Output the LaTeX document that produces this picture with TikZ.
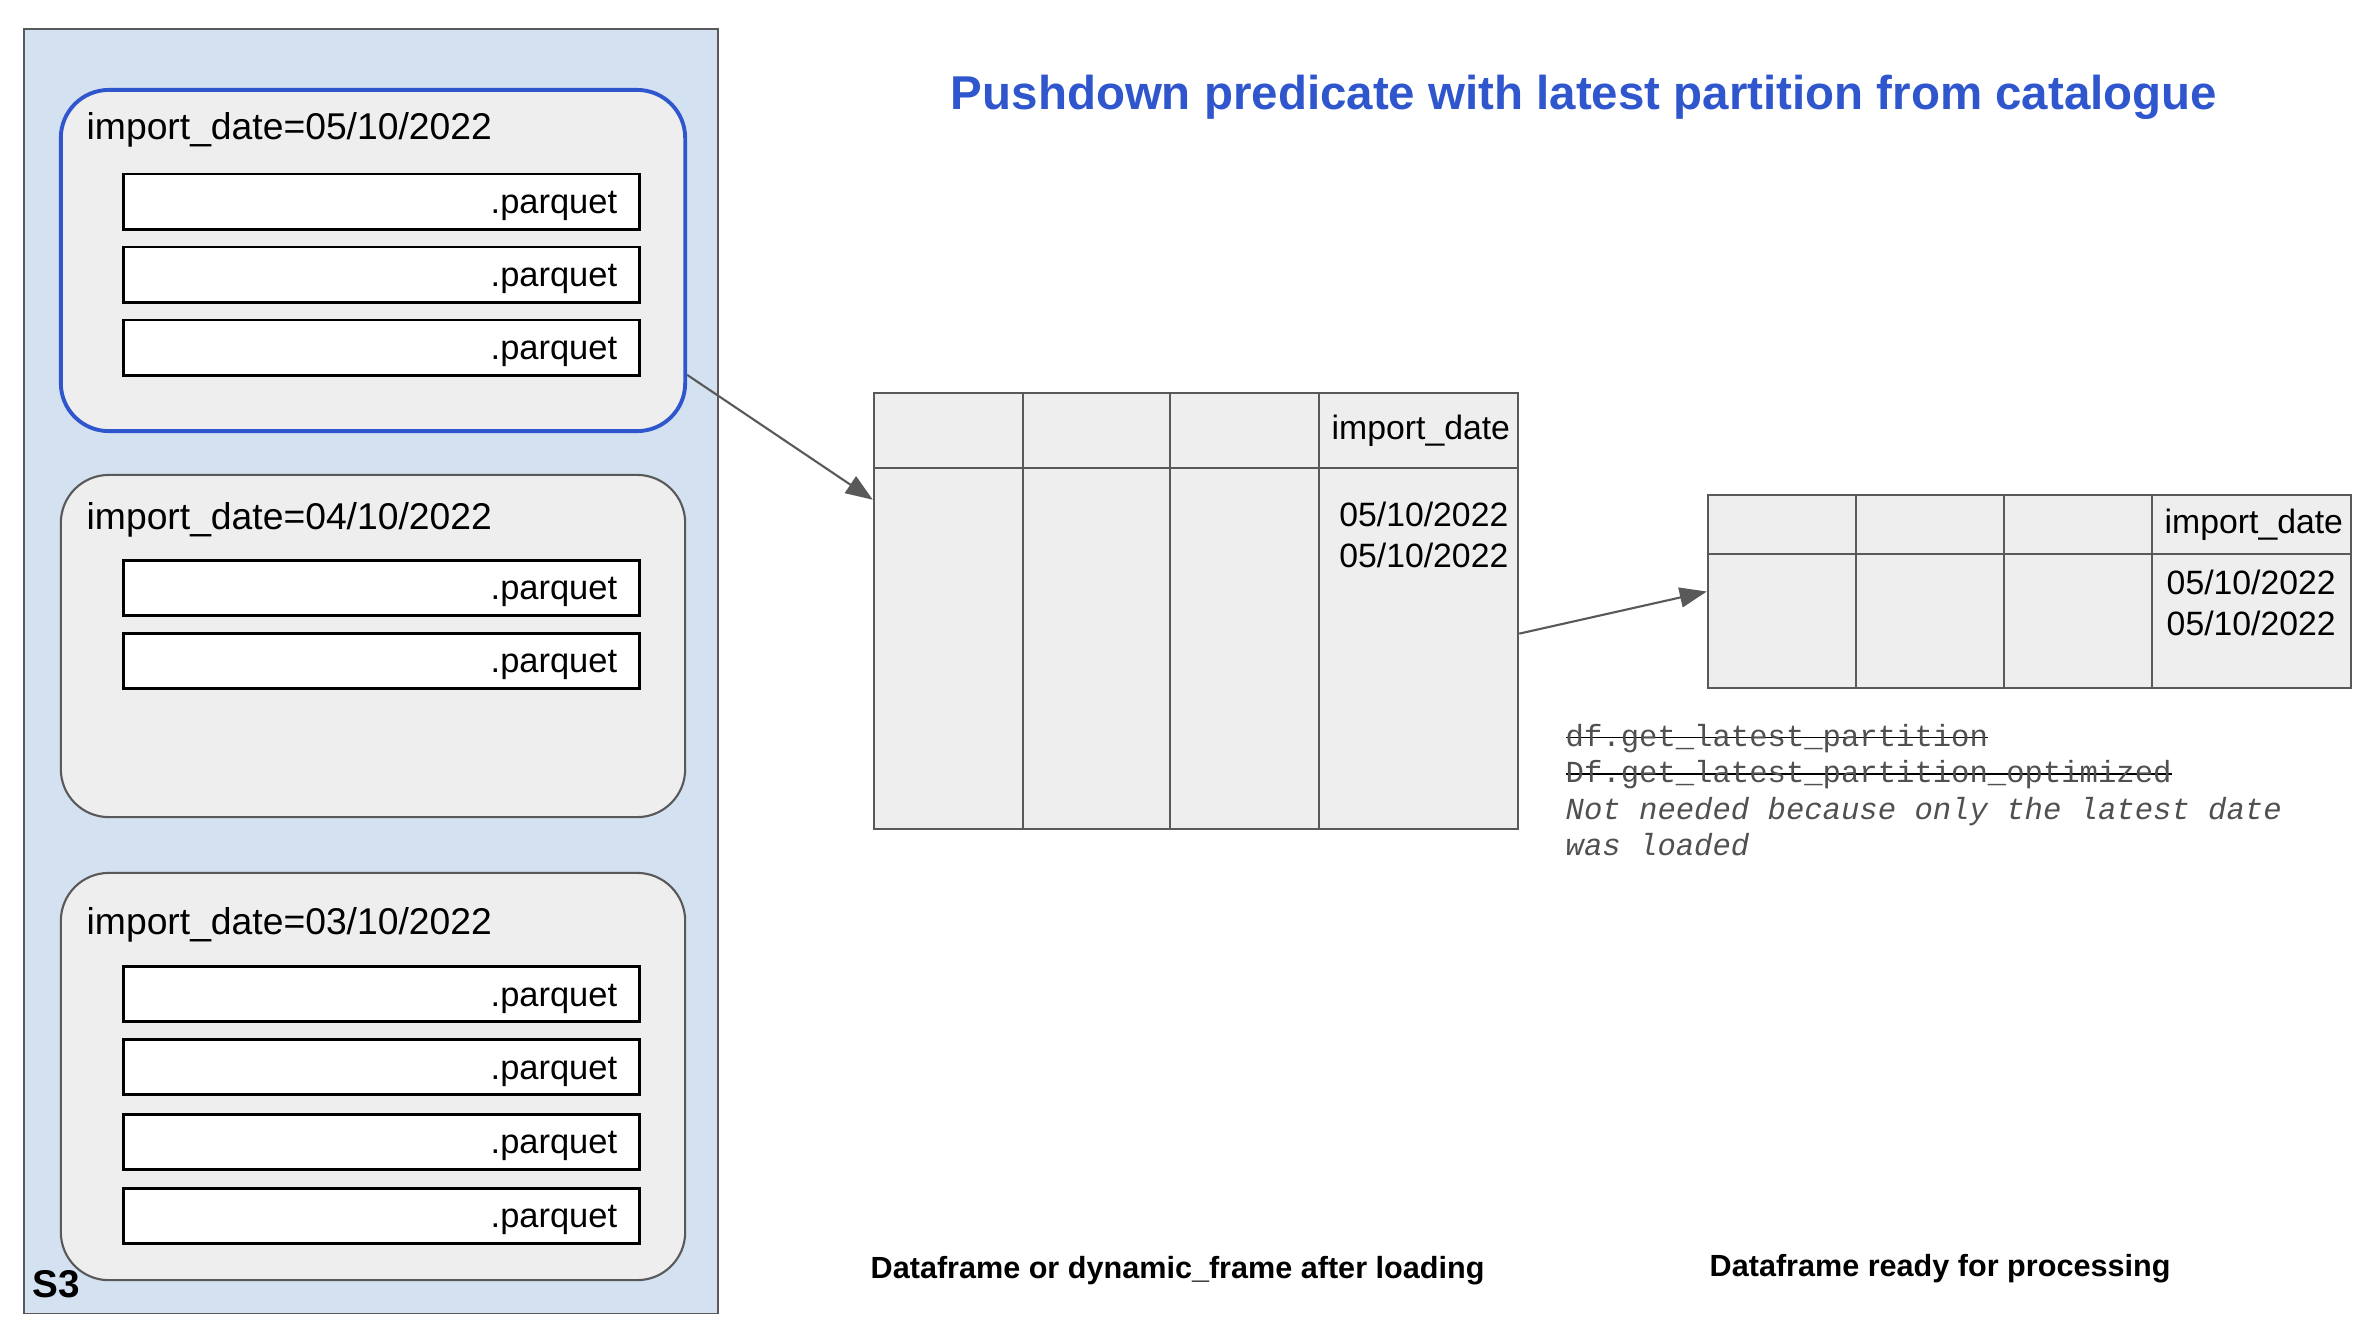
\documentclass[tikz,border=0pt]{standalone}
\usepackage{fontspec}
\setmainfont{Liberation Sans}
\setmonofont{Liberation Mono}
\usetikzlibrary{arrows.meta,positioning,calc}

\definecolor{s3blue}{RGB}{212,225,241}
\definecolor{partgray}{RGB}{238,238,238}
\definecolor{linegray}{RGB}{89,89,89}
\definecolor{titleblue}{RGB}{47,86,204}
\definecolor{codegray}{RGB}{80,80,80}

% struck-through text without extra packages
\newcommand{\crossout}[1]{\setbox0\hbox{#1}\rlap{\color{black}\raisebox{0.27em}{\rule{\wd0}{0.5pt}}}\box0}

\begin{document}
\begin{tikzpicture}[x=0.01cm, y=-0.01cm,
    font=\fontsize{9.8}{11.8}\selectfont,
    partition/.style={rectangle, rounded corners=0.48cm, draw=linegray, line width=0.6pt, fill=partgray, minimum width=6.24cm},
    partlabel/.style={anchor=base west, inner sep=0, font=\fontsize{10.6}{12.7}\selectfont},
    parquet/.style={rectangle, draw=black, line width=0.85pt, fill=white, minimum height=0.55cm, text width=4.71cm, text height=0.9em, text depth=0.2em, inner xsep=0.22cm, inner ysep=0, align=right},
    dftable/.style={rectangle, draw=linegray, line width=0.6pt, fill=partgray},
    grid line/.style={draw=linegray, line width=0.6pt},
    cell/.style={inner sep=0, font=\fontsize{9.6}{11.5}\selectfont},
    link/.style={-{Triangle[length=0.27cm, width=0.2cm]}, draw=linegray, line width=0.6pt},
    caption/.style={anchor=base west, inner sep=0, font=\fontsize{8.7}{10.4}\selectfont\bfseries}
  ]
  \useasboundingbox (0,0) rectangle (2380,1326);

  % S3 bucket
  \node[rectangle, draw=linegray, line width=0.5pt, fill=s3blue, minimum width=6.94cm, minimum height=12.84cm] (s3) at (371,671) {};
  \node[anchor=base west, inner sep=0, font=\fontsize{11}{13}\selectfont\bfseries] (s3label) at (32,1297) {S3};

  % Partitions
  \node[partition, draw=titleblue, line width=1.1pt, minimum height=3.41cm] (part1) at (373,260.5) {};
  \node[partition, minimum height=3.42cm] (part2) at (373,646) {};
  \node[partition, minimum height=4.07cm] (part3) at (373,1076.5) {};
  \node[partlabel] (label1) at (86,139) {import\_date=05/10/2022};
  \node[partlabel] (label2) at (86,529) {import\_date=04/10/2022};
  \node[partlabel] (label3) at (86,934) {import\_date=03/10/2022};

  % Parquet files
  \foreach \py [count=\i] in {201.5,274.5,347.5}
    \node[parquet] (file1\i) at (381.5,\py) {.parquet};
  \foreach \py [count=\i] in {587.5,660.5}
    \node[parquet] (file2\i) at (381.5,\py) {.parquet};
  \foreach \py [count=\i] in {994,1067,1141.5,1215.5}
    \node[parquet] (file3\i) at (381.5,\py) {.parquet};

  % Dataframe after loading
  \node[dftable, minimum width=6.44cm, minimum height=4.36cm] (tab1) at (1196,611) {};
  \draw[grid line] (tab1.west |- 0,468) -- (tab1.east |- 0,468);
  \foreach \cx in {1023,1170,1319}
    \draw[grid line] (tab1.north -| \cx,0) -- (tab1.south -| \cx,0);
  \node[cell, anchor=west] (head1) at (1331,431) {import\_date};
  \node[cell, anchor=east, align=right] (dates1) at (1509,535) {05/10/2022\\05/10/2022};

  % Dataframe ready for processing
  \node[dftable, minimum width=6.43cm, minimum height=1.93cm] (tab2) at (2029.5,591.5) {};
  \draw[grid line] (tab2.west |- 0,554) -- (tab2.east |- 0,554);
  \foreach \cx in {1856,2004,2152}
    \draw[grid line] (tab2.north -| \cx,0) -- (tab2.south -| \cx,0);
  \node[cell, anchor=west] (head2) at (2164,525) {import\_date};
  \node[cell, anchor=west, align=left] (dates2) at (2166,603) {05/10/2022\\05/10/2022};

  % Connections
  \draw[link] (part1.-20) -- (tab1.161);
  \draw[link] (tab1.-4) -- (tab2.west);

  % Notes and captions
  \node[anchor=base, font=\fontsize{13.5}{16}\selectfont\bfseries, text=titleblue] (title) at (1584,109) {Pushdown predicate with latest partition from catalogue};
  \node[anchor=west, inner sep=0, align=left, text=codegray, font=\fontsize{8.7}{10.3}\selectfont\ttfamily] (note) at (1565,790)
    {\crossout{df.get\_latest\_partition}\\\crossout{Df.get\_latest\_partition\_optimized}\\\textit{Not needed because only the latest date}\\\textit{was loaded}};
  \node[caption] (cap1) at (870,1278) {Dataframe or dynamic\_frame after loading};
  \node[caption] (cap2) at (1709,1276) {Dataframe ready for processing};
\end{tikzpicture}
\end{document}
